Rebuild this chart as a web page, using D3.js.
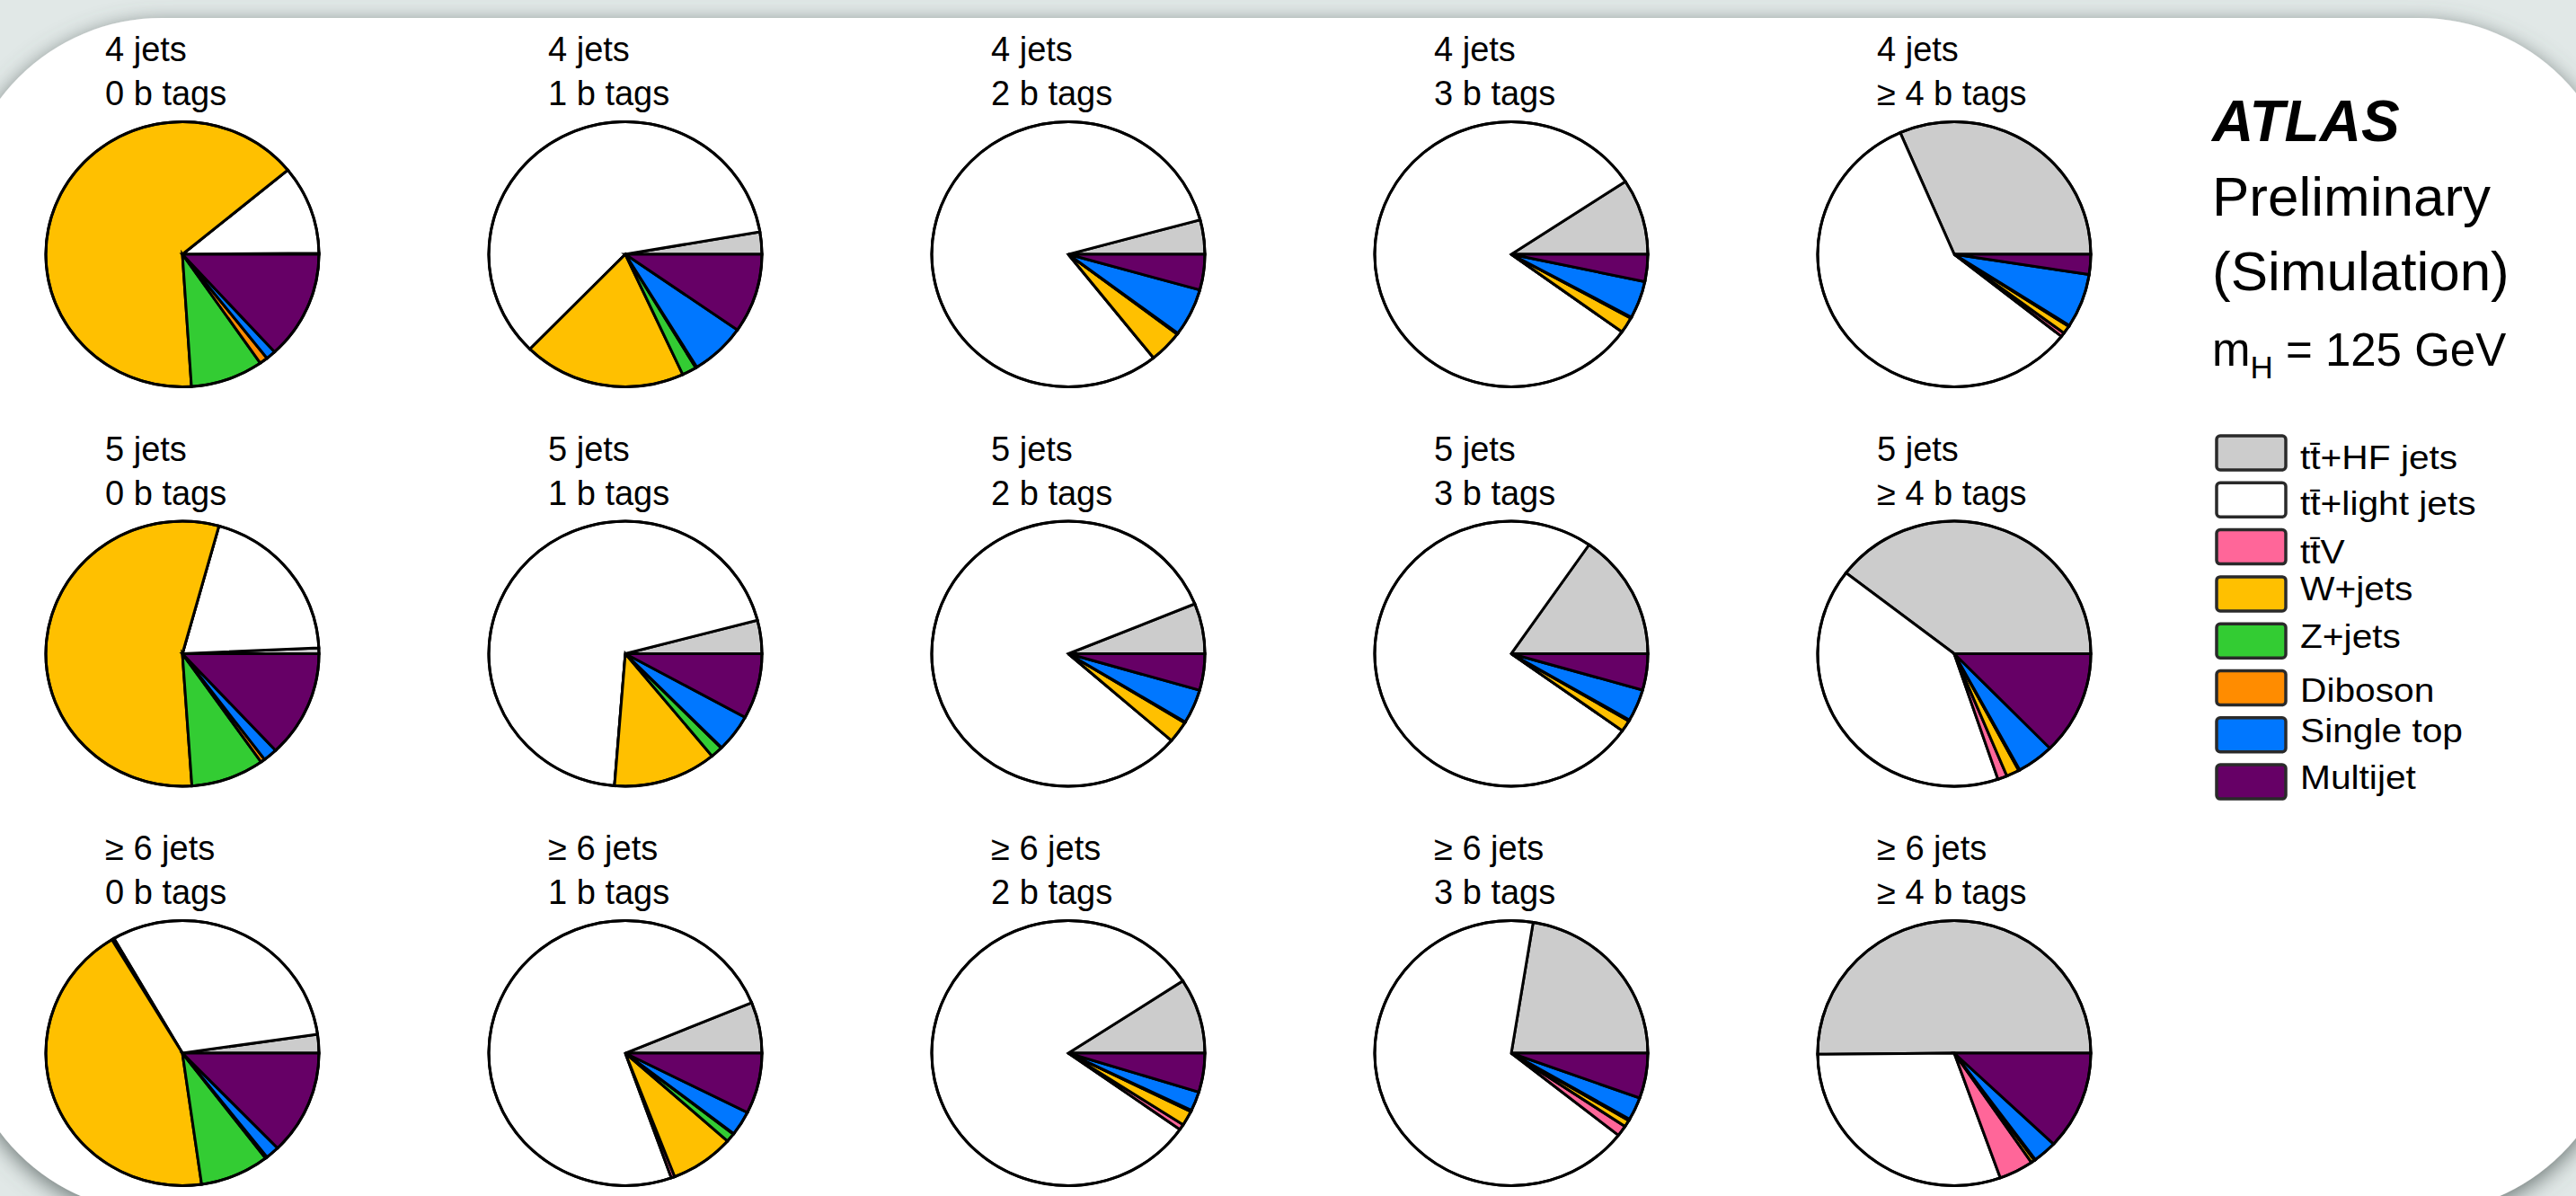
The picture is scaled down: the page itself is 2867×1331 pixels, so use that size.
<!DOCTYPE html>
<html>
<head>
<meta charset="utf-8">
<script src="https://cdn.jsdelivr.net/npm/d3@7"></script>
<style>
  html, body { margin: 0; padding: 0; background: #e1e8e7; overflow: hidden; }
  svg { display: block; }
  text { font-family: "Liberation Sans", Arial, Helvetica, sans-serif; fill: #000; }
</style>
</head>
<body>
<svg id="chart" width="2867" height="1331"></svg>
<script>
// Region categories: rows are jet multiplicities, columns are b-tag multiplicities
const jetBins = ["4 jets", "5 jets", "\u2265 6 jets"];
const tagBins = ["0 b tags", "1 b tags", "2 b tags", "3 b tags", "\u2265 4 b tags"];

// Process names (legend order, also the counter-clockwise slice order)
const processes = [
  "t\u0074\u0304+HF jets", "t\u0074\u0304+light jets", "t\u0074\u0304V",
  "W+jets", "Z+jets", "Diboson", "Single top", "Multijet"
];
const processColors = ["#cccccc", "#ffffff", "#ff6699", "#ffc000", "#33cc33", "#ff8c00", "#0077ff", "#660066"];

// Expected composition of each region (%), regions ordered 4j:0b..>=4b, 5j:..., >=6j:...
const ttbarHF    = [0.14, 2.72, 4.19, 9.25, 31.47,   0.69, 4.06, 6.14, 15.36, 39.56,   2.28, 6.22, 9.17, 22.44, 50.14];
const ttbarLight = [10.83, 59.97, 81.53, 80.81, 57.89,   20.0, 69.67, 82.5, 74.78, 40.64,   31.08, 74.25, 81.06, 66.92, 30.33];
const ttbarV     = [0, 0, 0, 0, 0.5,   0, 0, 0, 0, 1.11,   0.28, 0.42, 0.69, 1.31, 4.08];
const wJets      = [65.08, 19.22, 3.97, 1.94, 0.97,   55.42, 12.22, 2.64, 1.39, 1.53,   43.61, 7.56, 1.81, 0.83, 0.44];
const zJets      = [8.61, 1.72, 0.08, 0.08, 0.06,   8.67, 1.44, 0.06, 0.08, 0.06,   8.17, 1.08, 0.08, 0.08, 0.06];
const diboson    = [0.97, 0.14, 0.06, 0.06, 0.08,   0.5, 0.08, 0.06, 0.06, 0.08,   0.22, 0.08, 0.08, 0.11, 0.08];
const singleTop  = [1.17, 6.56, 5.83, 4.56, 6.58,   1.69, 4.56, 4.17, 3.92, 4.39,   1.64, 3.0, 2.36, 2.81, 2.83];
const multijet   = [13.19, 9.67, 4.33, 3.31, 2.44,   13.03, 7.97, 4.44, 4.42, 12.64,   12.72, 7.39, 4.75, 5.5, 12.03];

const series = [ttbarHF, ttbarLight, ttbarV, wJets, zJets, diboson, singleTop, multijet];

// ---- layout ----
const W = 2867, H = 1331;
const svg = d3.select("#chart").attr("width", W).attr("height", H);

// page card with soft shadow
const defs = svg.append("defs");
const sh = defs.append("filter").attr("id", "cardShadow")
  .attr("x", "-10%").attr("y", "-10%").attr("width", "120%").attr("height", "120%");
sh.append("feDropShadow").attr("dx", 0).attr("dy", 6).attr("stdDeviation", 12)
  .attr("flood-color", "#55605f").attr("flood-opacity", 0.85);

svg.append("rect").attr("width", W).attr("height", H).attr("fill", "#e1e8e7");
svg.append("rect")
  .attr("x", -45).attr("y", 20).attr("width", 2962).attr("height", 1330)
  .attr("rx", 225).attr("ry", 225)
  .attr("fill", "#ffffff").attr("filter", "url(#cardShadow)");

// grid of pies
const colX = d3.scalePoint().domain(d3.range(tagBins.length)).range([203, 2175]);
const rowY = d3.scalePoint().domain(d3.range(jetBins.length)).range([283, 1172]);
const rx = 152, ry = 147.5;

const pie = d3.pie().sort(null).value(d => d.v)
  .startAngle(Math.PI / 2).endAngle(Math.PI / 2 - 2 * Math.PI);
const arc = d3.arc().innerRadius(0).outerRadius(rx);

const regions = [];
jetBins.forEach((jl, j) => tagBins.forEach((tl, t) => {
  const idx = j * tagBins.length + t;
  regions.push({
    jet: jl, tag: tl, row: j, col: t,
    slices: processes.map((p, k) => ({ name: p, color: processColors[k], v: series[k][idx] }))
  });
}));

const g = svg.selectAll("g.region").data(regions).join("g")
  .attr("class", "region")
  .attr("transform", d => `translate(${colX(d.col)},${rowY(d.row)})`);

g.append("text").attr("x", -86).attr("y", -215).attr("font-size", 38).text(d => d.jet);
g.append("text").attr("x", -86).attr("y", -166).attr("font-size", 38).text(d => d.tag);

const pg = g.append("g").attr("transform", `scale(1,${ry / rx})`);
pg.selectAll("path.slice").data(d => pie(d.slices)).join("path")
  .attr("class", "slice")
  .attr("d", arc)
  .attr("fill", d => d.data.color)
  .attr("stroke", "#000")
  .attr("stroke-width", 3)
  .attr("stroke-linejoin", "miter")
  .attr("vector-effect", "non-scaling-stroke");
pg.append("circle").attr("r", rx).attr("fill", "none")
  .attr("stroke", "#000").attr("stroke-width", 3)
  .attr("vector-effect", "non-scaling-stroke");

// experiment label
const lab = svg.append("g").attr("transform", "translate(2462,0)");
lab.append("text").attr("y", 157).attr("font-size", 64)
  .attr("font-weight", "bold").attr("font-style", "italic").text("ATLAS");
lab.append("text").attr("y", 240).attr("font-size", 62).text("Preliminary");
lab.append("text").attr("y", 323).attr("font-size", 62).text("(Simulation)");
const mh = lab.append("text").attr("y", 407).attr("font-size", 51);
mh.append("tspan").text("m");
mh.append("tspan").attr("font-size", 35).attr("dy", 14).text("H");
mh.append("tspan").attr("dy", -14).text(" = 125 GeV");

// legend
const legendTop = 485, legendStep = 52.3;
const legendTextShift = [18, 17, 18, 7, 8, 15, 8, 8];
const leg = svg.append("g").attr("transform", "translate(2467,0)");
const li = leg.selectAll("g").data(processes).join("g")
  .attr("transform", (d, i) => `translate(0,${legendTop + i * legendStep})`);
li.append("rect").attr("x", 0).attr("y", 0).attr("width", 77).attr("height", 38)
  .attr("rx", 4).attr("fill", (d, i) => processColors[i])
  .attr("stroke", "#2a2a2a").attr("stroke-width", 3.5);
li.append("text")
  .attr("transform", (d, i) => `translate(93,${19 + legendTextShift[i]}) scale(1.1,1)`)
  .attr("font-size", 37).text(d => d);
</script>
</body>
</html>
